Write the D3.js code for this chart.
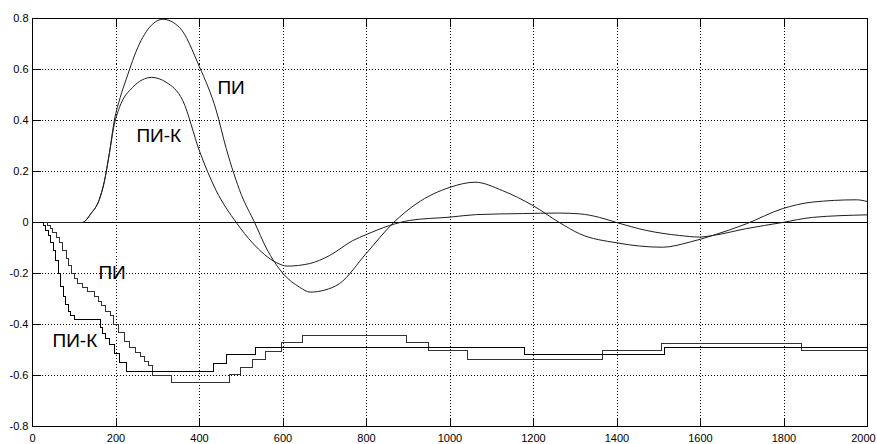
<!DOCTYPE html>
<html lang="ru">
<head>
<meta charset="utf-8">
<title>ПИ / ПИ-К</title>
<style>
	body {
		margin: 0px;
		background-color: #ffffff;
		overflow: hidden;
	}
	svg {
		display: block;
	}
	text {
		font-family: "Liberation Sans", Arial, sans-serif;
		fill: #000;
	}
	.grid line {
		stroke: #000;
		stroke-width: 1px;
		stroke-dasharray: 1,2;
		shape-rendering: crispEdges;
	}
	.curve {
		fill: none;
		stroke: #1e1e1e;
		stroke-width: 1px;
	}
	.step {
		fill: none;
		stroke-width: 1px;
		shape-rendering: crispEdges;
	}
</style>
</head>
<body>
<svg id="chart" width="877" height="444"></svg>
<script src="https://d3js.org/d3.v7.min.js"></script>
<script>
// axis ticks
var xTicks = [0, 200, 400, 600, 800, 1000, 1200, 1400, 1600, 1800, 2000];
var yTicks = [-0.8, -0.6, -0.4, -0.2, 0, 0.2, 0.4, 0.6, 0.8];
var yTickLabels = ["-0.8", "-0.6", "-0.4", "-0.2", "0", "0.2", "0.4", "0.6", "0.8"];

// smooth curve "ПИ"
var piTime  = [0, 119, 140, 160, 172, 184, 196, 210, 224, 256, 289, 312, 352, 400, 440, 464, 500, 532, 560, 600, 640, 665, 700, 735, 800, 865, 919, 1000, 1060, 1126, 1198, 1262, 1310, 1400, 1509, 1574, 1629, 1710, 1796, 1868, 1974, 2000];
var piValue = [0, 0, 0.035, 0.09, 0.16, 0.27, 0.4, 0.49, 0.56, 0.70, 0.78, 0.797, 0.765, 0.61, 0.44, 0.29, 0.11, 0, -0.1, -0.2, -0.254, -0.273, -0.265, -0.24, -0.12, 0, 0.073, 0.138, 0.158, 0.125, 0.067, 0, -0.044, -0.08, -0.097, -0.077, -0.051, -0.005, 0.054, 0.08, 0.089, 0.082];

// smooth curve "ПИ-К"
var pikTime  = [0, 119, 140, 160, 172, 184, 196, 208, 240, 285, 320, 360, 400, 440, 488, 527, 584, 610, 664, 711, 767, 800, 855, 903, 1000, 1063, 1174, 1260, 1310, 1358, 1399, 1470, 1550, 1598, 1629, 1710, 1796, 1868, 2000];
var pikValue = [0, 0, 0.035, 0.09, 0.16, 0.27, 0.385, 0.45, 0.53, 0.569, 0.55, 0.478, 0.28, 0.125, 0, -0.08, -0.157, -0.171, -0.161, -0.13, -0.071, -0.047, -0.012, 0.008, 0.021, 0.031, 0.035, 0.037, 0.034, 0.02, 0, -0.031, -0.051, -0.057, -0.051, -0.024, 0, 0.02, 0.03];

// staircase "ПИ"
var piStepTime  = [0, 36, 43, 49, 57, 65, 72, 81, 87, 93, 101, 108, 120, 132, 148, 158, 166, 174, 186, 194, 206, 220, 232, 246, 258, 268, 278, 287, 333, 472, 498, 527, 558, 596, 647, 896, 949, 1042, 1365, 1507, 1842, 2000];
var piStepValue = [0, -0.012, -0.025, -0.04, -0.06, -0.08, -0.11, -0.14, -0.17, -0.2, -0.22, -0.24, -0.255, -0.27, -0.29, -0.31, -0.325, -0.35, -0.365, -0.4, -0.43, -0.465, -0.49, -0.51, -0.525, -0.545, -0.56, -0.6, -0.626, -0.597, -0.567, -0.538, -0.505, -0.472, -0.443, -0.472, -0.502, -0.537, -0.502, -0.473, -0.502, -0.502];

// staircase "ПИ-К"
var pikStepTime  = [0, 26, 32, 38, 44, 50, 56, 62, 68, 74, 80, 86, 92, 100, 162, 168, 176, 184, 196, 208, 224, 433, 465, 534, 1178, 1514, 2000];
var pikStepValue = [0, -0.01, -0.03, -0.05, -0.08, -0.11, -0.15, -0.2, -0.25, -0.29, -0.32, -0.35, -0.365, -0.38, -0.41, -0.435, -0.455, -0.48, -0.515, -0.548, -0.583, -0.553, -0.519, -0.489, -0.518, -0.489, -0.489];

// curve labels, anchored in data units
var labelText = ["ПИ", "ПИ-К", "ПИ", "ПИ-К"];
var labelTime = [443, 249, 158, 48];
var labelValue = [0.505, 0.314, -0.22, -0.49];

var margin = {top: 18.5, right: 9, bottom: 17.5, left: 32.5},
	width = 835,
	height = 408,
	tickLen = 8;

var svg = d3.select("#chart");
var g = svg.append("g").attr("transform", "translate(" + margin.left + "," + margin.top + ")");

var x = d3.scaleLinear().domain([0, 2000]).range([0, width]);
var y = d3.scaleLinear().domain([-0.8, 0.8]).range([height, 0]);

function px(v) { return Math.round(x(v)); }
function py(v) { return Math.round(y(v)); }

// dotted grid
var grid = g.append("g").attr("class", "grid");
grid.selectAll(".gx")
	.data(xTicks.slice(1, -1))
	.enter().append("line")
	.attr("x1", px).attr("x2", px)
	.attr("y1", 0).attr("y2", height);
grid.selectAll(".gy")
	.data(yTicks.slice(1, -1))
	.enter().append("line")
	.attr("x1", 0).attr("x2", width)
	.attr("y1", py).attr("y2", py);

// zero line
g.append("line")
	.attr("x1", 0).attr("x2", width)
	.attr("y1", py(0)).attr("y2", py(0))
	.attr("stroke", "#000")
	.attr("shape-rendering", "crispEdges");

var smooth = d3.line()
	.x(function(d) { return x(d[0]); })
	.y(function(d) { return y(d[1]); })
	.curve(d3.curveMonotoneX);

var stairs = d3.line()
	.x(function(d) { return px(d[0]); })
	.y(function(d) { return py(d[1]); })
	.curve(d3.curveStepAfter);

g.append("path").datum(d3.zip(pikTime, pikValue)).attr("class", "curve").attr("d", smooth);
g.append("path").datum(d3.zip(piTime, piValue)).attr("class", "curve").attr("d", smooth);

g.append("path").datum(d3.zip(piStepTime, piStepValue)).attr("class", "step").attr("stroke", "#333").attr("d", stairs);
g.append("path").datum(d3.zip(pikStepTime, pikStepValue)).attr("class", "step").attr("stroke", "#000").attr("d", stairs);

// frame
g.append("rect")
	.attr("width", width).attr("height", height)
	.attr("fill", "none").attr("stroke", "#000")
	.attr("shape-rendering", "crispEdges");

// inward ticks on all four sides
var ticks = g.append("g").attr("stroke", "#000").attr("shape-rendering", "crispEdges");
xTicks.forEach(function(t) {
	ticks.append("line").attr("x1", px(t)).attr("x2", px(t)).attr("y1", height).attr("y2", height - tickLen);
	ticks.append("line").attr("x1", px(t)).attr("x2", px(t)).attr("y1", 0).attr("y2", tickLen);
});
yTicks.forEach(function(v) {
	ticks.append("line").attr("x1", 0).attr("x2", tickLen).attr("y1", py(v)).attr("y2", py(v));
	ticks.append("line").attr("x1", width).attr("x2", width - tickLen).attr("y1", py(v)).attr("y2", py(v));
});

// tick labels (the last one is pulled in so it stays on the page)
g.selectAll(".xl")
	.data(xTicks)
	.enter().append("text")
	.attr("x", function(d, i) { return i === xTicks.length - 1 ? x(d) - 4 : x(d); })
	.attr("y", height + 15.5)
	.attr("text-anchor", "middle")
	.style("font-size", "11px")
	.text(function(d) { return d; });

g.selectAll(".yl")
	.data(yTicks)
	.enter().append("text")
	.attr("x", -4)
	.attr("y", y)
	.attr("dy", "0.36em")
	.attr("text-anchor", "end")
	.style("font-size", "11px")
	.text(function(d, i) { return yTickLabels[i]; });

// curve labels
g.selectAll(".lab")
	.data(labelText)
	.enter().append("text")
	.attr("x", function(d, i) { return x(labelTime[i]); })
	.attr("y", function(d, i) { return y(labelValue[i]); })
	.style("font-size", "19px")
	.text(function(d) { return d; });
</script>
</body>
</html>
